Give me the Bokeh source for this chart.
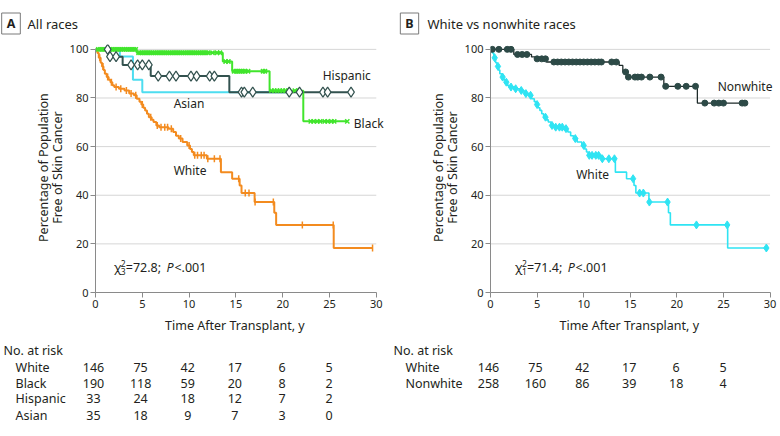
import numpy as np
from bokeh.plotting import figure
from bokeh.models import Label, FixedTicker, Range1d
from bokeh.layouts import row, column
from bokeh.embed import file_html
from bokeh.resources import INLINE

# ---------------- data ----------------
# Kaplan-Meier steps: time (y) at which survival (%) changes, and survival after it
white_t = [0, 0.2, 0.35, 0.55, 0.7, 0.85, 1.0, 1.2, 1.4, 1.6, 1.8, 2.0, 2.5, 3.1, 3.6, 4.1, 4.4, 4.7,
           4.9, 5.1, 5.3, 5.5, 5.7, 6.0, 6.2, 6.5, 6.8, 7.8, 8.3, 8.6, 8.9, 9.3, 9.8, 10.1, 10.3, 10.5,
           11.9, 13.4, 14.6, 15.4, 15.6, 17.0, 19.1, 19.3, 25.45]
white_s = [100, 98.5, 96.5, 94.5, 93.0, 91.5, 90.0, 88.6, 87.5, 86.5, 85.2, 84.5, 83.8, 83.1, 81.8,
           81.1, 79.7, 78.5, 77.3, 76.0, 74.9, 73.5, 72.1, 71.0, 70.1, 68.7, 68.0, 67.4, 66.0, 64.5,
           63.3, 61.9, 60.5, 59.0, 57.8, 56.4, 55.0, 49.5, 46.8, 44.0, 40.9, 37.2, 32.8, 27.8, 18.3]
white_end = 29.6
white_cens = [0.45, 0.8, 1.3, 1.7, 2.2, 2.7, 3.3, 3.8, 4.3, 5.0, 5.9, 6.6, 7.0, 7.4, 7.7, 8.1, 9.1,
              10.0, 10.6, 10.9, 11.3, 11.6, 12.0, 12.7, 13.3, 15.3, 16.0, 16.4, 17.05, 19.0, 22.1,
              25.4, 29.6]

black_t = [0, 4.4, 13.6, 14.6, 18.6, 22.2]
black_s = [100, 98.6, 95.0, 91.0, 83.0, 70.4]
black_end = 26.9
black_cens = [0.3, 0.5, 0.7, 0.9, 1.1, 1.3, 1.5, 1.7, 1.9, 2.1, 2.3, 2.5, 2.7, 2.9, 3.1, 3.3, 3.5,
              3.7, 3.9, 4.1, 4.3, 4.6, 4.8, 5.0, 5.2, 5.4, 5.6, 5.8, 6.0, 6.2, 6.4, 6.6, 6.8, 7.0,
              7.2, 7.4, 7.6, 7.8, 8.0, 8.2, 8.4, 8.6, 8.8, 9.0, 9.2, 9.4, 9.6, 9.8, 10.0, 10.2,
              10.4, 10.6, 10.8, 11.0, 11.2, 11.4, 11.6, 11.8, 12.0, 12.5, 13.0, 13.3, 13.9, 14.2,
              14.8, 15.0, 15.2, 15.4, 15.6, 15.8, 16.0, 16.3, 17.9, 18.1, 18.8, 19.1, 19.4, 19.7,
              20.0, 20.3, 20.6, 21.3, 21.7, 23.0, 23.3, 23.7, 24.0, 24.5, 24.8, 25.2, 25.5, 26.9]

hisp_t = [0, 1.4, 2.9, 5.9, 14.3]
hisp_s = [100, 97.0, 93.6, 89.0, 82.4]
hisp_end = 27.3
hisp_cens = [1.3, 1.55, 2.2, 3.8, 4.5, 5.0, 5.7, 6.7, 7.9, 8.6, 10.2, 10.8, 12.2, 12.7, 15.6, 15.9,
             16.8, 20.7, 21.8, 24.3, 24.8, 27.3]

asian_t = [0, 2.6, 4.0, 5.0]
asian_s = [100, 97.1, 87.5, 82.4]
asian_end = 20.5

nonw_t = [0, 2.5, 4.4, 4.8, 6.0, 13.8, 14.2, 14.6, 18.6, 22.2]
nonw_s = [100, 97.9, 96.9, 96.1, 94.8, 93.4, 90.7, 88.6, 84.8, 77.9]
nonw_end = 27.3
nonw_cens = [0.2, 0.9, 1.8, 2.2, 2.9, 3.4, 3.9, 5.0, 5.5, 5.9, 6.8, 7.2, 7.6, 8.0, 8.4, 8.8, 9.2,
             9.6, 10.0, 10.4, 10.8, 11.2, 11.6, 11.9, 13.0, 13.5, 14.5, 14.8, 15.5, 15.8, 16.2,
             17.1, 18.3, 18.8, 20.1, 21.0, 22.0, 23.0, 24.0, 24.5, 25.0, 27.0, 27.3]

risk_times = [0, 5, 10, 15, 20, 25]
risk_white = [146, 75, 42, 17, 6, 5]
risk_black = [190, 118, 59, 20, 8, 2]
risk_hisp = [33, 24, 18, 12, 7, 2]
risk_asian = [35, 18, 9, 7, 3, 0]
risk_nonwhite = [258, 160, 86, 39, 18, 4]

x_ticks = [0, 5, 10, 15, 20, 25, 30]
y_ticks = [0, 20, 40, 60, 80, 100]

# ---------------- style / layout ----------------
FONT = "Noto Sans"
TXT = "#231f20"
ORANGE = "#F38B1F"
GREEN = "#41E52C"
SLATE = "#33524F"
CYAN_A = "#4DDDF0"
CYAN_B = "#2FE4F3"
NW_LINE = "#1E2B2A"
NW_DOT = "#2D4A47"
GRID = "#d6d6d6"

HEAD_H = 36            # header strip (page y 0..36)
MID_H = 280            # plot strip (page y 36..316)
TAB_H = 120            # risk table strip (page y 316..436)
TOP_B, BOT_B = 8, 24
FRAME_H = MID_H - TOP_B - BOT_B
Y_MAX = 102
PANEL_W = 390


def km_xy(t, s, end):
    return list(t) + [end], list(s) + [s[-1]]


def s_at(t, s, c):
    idx = np.searchsorted(np.array(t), np.array(c), side="right") - 1
    return np.array(s)[idx]


def blank(w, h, xr, yr):
    f = figure(width=w, height=h, x_range=Range1d(*xr), y_range=Range1d(*yr),
               output_backend="svg", toolbar_location=None, min_border=0,
               x_axis_location=None, y_axis_location=None)
    f.grid.visible = False
    f.outline_line_color = None
    return f


def lab(f, x, y, txt, size="12.5px", align="left", style="normal", angle=0, **kw):
    f.add_layout(Label(x=x, y=y, text=txt, text_font=FONT, text_font_size=size,
                       text_color=TXT, text_align=align, text_baseline="middle",
                       text_font_style=style, angle=angle, **kw))


class Panel:
    def __init__(self, x0, ylab_w, border_left, x30_abs):
        self.x0 = x0
        self.left_abs = x0 + ylab_w + border_left
        self.kx = (x30_abs - self.left_abs) / 30.0
        main_w = PANEL_W - ylab_w
        frame_w = main_w - border_left
        x_end = frame_w / self.kx

        # header strip (page pixel coordinates)
        self.head = blank(PANEL_W, HEAD_H, (x0, x0 + PANEL_W), (HEAD_H, 0))
        # y-title strip
        self.ylab = blank(ylab_w, MID_H, (x0, x0 + ylab_w), (HEAD_H + MID_H, HEAD_H))
        # risk table strip (x in years, y in page pixels)
        self.tab = blank(PANEL_W, TAB_H,
                         ((x0 - self.left_abs) / self.kx, (x0 + PANEL_W - self.left_abs) / self.kx),
                         (HEAD_H + MID_H + TAB_H, HEAD_H + MID_H))

        p = figure(width=main_w, height=MID_H, x_range=Range1d(0, x_end),
                   y_range=Range1d(0, Y_MAX), output_backend="svg", toolbar_location=None,
                   min_border_left=border_left, min_border_right=0,
                   min_border_top=TOP_B, min_border_bottom=BOT_B)
        p.outline_line_color = None
        p.grid.visible = False
        p.xaxis.ticker = FixedTicker(ticks=x_ticks)
        p.yaxis.ticker = FixedTicker(ticks=y_ticks)
        p.xaxis.bounds = (x_ticks[0], x_ticks[-1])
        p.yaxis.bounds = (y_ticks[0], y_ticks[-1])
        for ax in (p.xaxis, p.yaxis):
            ax.axis_line_color = "#8a8a8a"
            ax.major_tick_line_color = "#8a8a8a"
            ax.minor_tick_line_color = None
            ax.major_tick_in = 0
            ax.major_tick_out = 5
            ax.major_label_text_font = FONT
            ax.major_label_text_font_size = "11px"
            ax.major_label_text_color = TXT
        p.xaxis.major_label_standoff = 2
        p.yaxis.major_label_standoff = 2
        # horizontal grid lines spanning the 0-30 axis only
        p.segment(x0=[x_ticks[0]] * len(y_ticks), x1=[x_ticks[-1]] * len(y_ticks),
                  y0=y_ticks, y1=y_ticks, line_color=GRID, line_width=1, level="underlay")
        self.p = p

    def dx(self, xabs):
        return (xabs - self.left_abs) / self.kx

    def dy(self, yabs):
        frame_bottom = HEAD_H + TOP_B + FRAME_H
        return (frame_bottom - yabs) / (FRAME_H / Y_MAX)

    def header(self, box_x, letter, title_x, title):
        self.head.add_layout(Label(x=box_x, y=23, text=letter, text_font=FONT,
                                   text_font_size="12.5px", text_font_style="bold",
                                   text_color=TXT, text_align="center", text_baseline="middle",
                                   background_fill_color="white", border_line_color="#7a7a7a",
                                   border_line_width=1,
                                   padding=dict(left=5, right=5, top=2, bottom=2)))
        lab(self.head, title_x, 23, title, size="13px")

    def ytitle(self):
        lab(self.ylab, self.left_abs - 50, 175, "Percentage of Population", align="center",
            angle=np.pi / 2)
        lab(self.ylab, self.left_abs - 36, 175, "Free of Skin Cancer", align="center",
            angle=np.pi / 2)

    def curve_label(self, xabs, yabs, txt):
        lab(self.p, self.dx(xabs), self.dy(yabs), txt, size="12px")

    def chi(self, xabs, dof, rest):
        y = self.dy(267)
        lab(self.p, self.dx(xabs), y, "\u03c7")
        lab(self.p, self.dx(xabs + 7), self.dy(262.5), "2", size="8.5px")
        lab(self.p, self.dx(xabs + 7), self.dy(271), dof, size="8.5px")
        lab(self.p, self.dx(xabs + 12), y, rest)
        lab(self.p, self.dx(xabs + 53), y, "P", style="italic")
        lab(self.p, self.dx(xabs + 61), y, "<.001")

    def table(self, rows):
        lab(self.tab, 15, 325, "Time After Transplant, y", align="center")
        lab(self.tab, self.dx(self.x0 + 3), 350, "No. at risk")
        for (name, counts, yabs) in rows:
            lab(self.tab, self.dx(self.x0 + 15), yabs, name)
            for t, n in zip(risk_times, counts):
                lab(self.tab, t, yabs, str(n), align="center")

    def layout(self):
        return column(self.head, row(self.ylab, self.p), self.tab)


# ---------------- panel A ----------------
A = Panel(0, 66, 27, 375.7)
pA = A.p
x, y = km_xy(asian_t, asian_s, asian_end)
pA.step(x, y, mode="after", line_color=CYAN_A, line_width=2)
x, y = km_xy(white_t, white_s, white_end)
pA.step(x, y, mode="after", line_color=ORANGE, line_width=2)
pA.scatter(white_cens, s_at(white_t, white_s, white_cens), marker="dash", angle=np.pi / 2,
           size=7, line_color=ORANGE, line_width=1.5)
x, y = km_xy(hisp_t, hisp_s, hisp_end)
pA.step(x, y, mode="after", line_color=SLATE, line_width=2)
x, y = km_xy(black_t, black_s, black_end)
pA.step(x, y, mode="after", line_color=GREEN, line_width=2)
pA.scatter(black_cens, s_at(black_t, black_s, black_cens), marker="x", size=6,
           line_color=GREEN, line_width=1.5)
pA.scatter(hisp_cens, s_at(hisp_t, hisp_s, hisp_cens), marker="diamond", size=10,
           fill_color="white", line_color=SLATE, line_width=1.2)

A.header(10.5, "A", 27, "All races")
A.ytitle()
A.curve_label(321.7, 75, "Hispanic")
A.curve_label(171.7, 103.3, "Asian")
A.curve_label(353, 122.7, "Black")
A.curve_label(171.7, 170, "White")
A.chi(111.5, "3", "=72.8;")
A.table([("White", risk_white, 366.7), ("Black", risk_black, 382.7),
         ("Hispanic", risk_hisp, 398.3), ("Asian", risk_asian, 415)])

# ---------------- panel B ----------------
B = Panel(390, 71, 27, 769.5)
pB = B.p
x, y = km_xy(white_t, white_s, white_end)
pB.step(x, y, mode="after", line_color=CYAN_B, line_width=1.6)
pB.scatter(white_cens, s_at(white_t, white_s, white_cens), marker="diamond", size=8,
           fill_color=CYAN_B, line_color=CYAN_B)
x, y = km_xy(nonw_t, nonw_s, nonw_end)
pB.step(x, y, mode="after", line_color=NW_LINE, line_width=1.3)
pB.scatter(nonw_cens, s_at(nonw_t, nonw_s, nonw_cens), marker="circle", size=6,
           fill_color=NW_DOT, line_color=NW_DOT)

B.header(409, "B", 427, "White vs nonwhite races")
B.ytitle()
B.curve_label(716.7, 86, "Nonwhite")
B.curve_label(574.3, 174, "White")
B.chi(512.7, "1", "=71.4;")
B.table([("White", risk_white, 366.7), ("Nonwhite", risk_nonwhite, 382.7)])

page = row(A.layout(), B.layout())
open("out.html", "w").write(file_html(page, INLINE))
